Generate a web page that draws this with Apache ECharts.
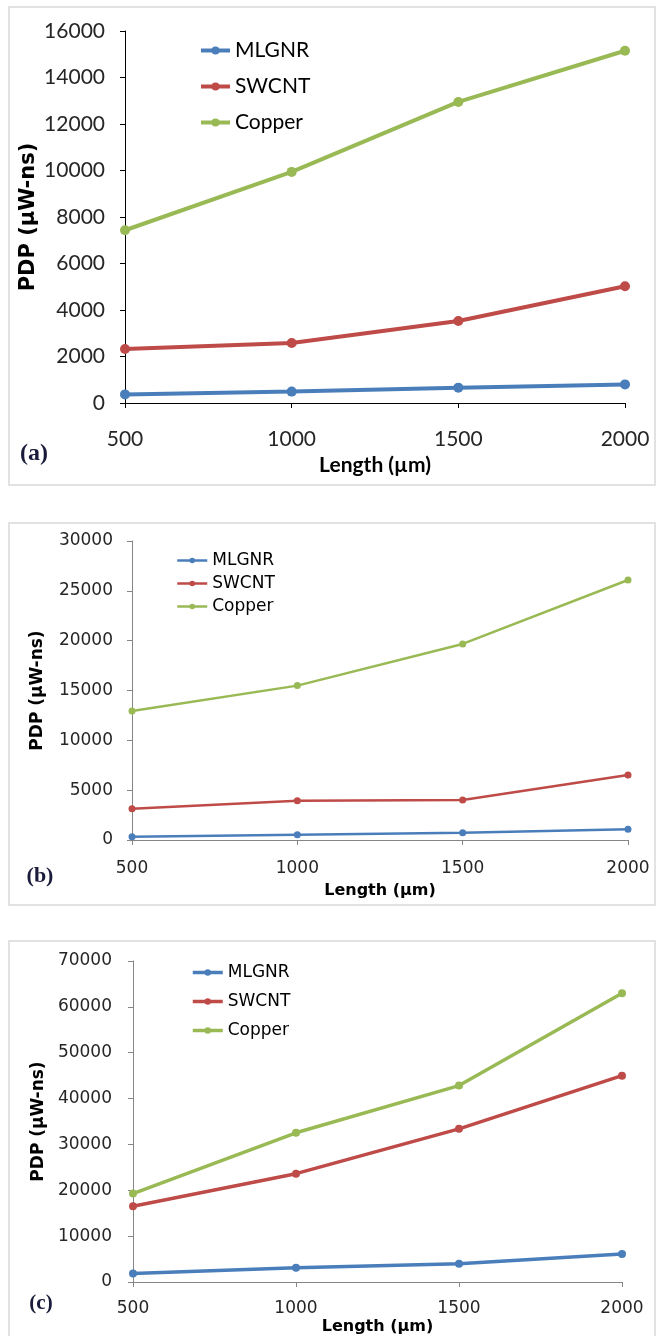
<!DOCTYPE html>
<html>
<head>
<meta charset="utf-8">
<script src="https://cdn.jsdelivr.net/npm/echarts@6/dist/echarts.min.js"></script>
<style>
html,body{margin:0;padding:0;background:#fff;}
#chart{width:656px;height:1336px;}
</style>
</head>
<body>
<div id="chart"></div>
<script>
// ---- data ----
const lengths = [500, 1000, 1500, 2000];
const seriesNames = ['MLGNR', 'SWCNT', 'Copper'];
const panelLabels = ['(a)', '(b)', '(c)'];
const xTitle = 'Length (µm)';
const yTitle = 'PDP (µW-ns)';

const mlgnrA = [370, 490, 660, 800];
const swcntA = [2320, 2580, 3530, 5020];
const copperA = [7430, 9940, 12950, 15150];

const mlgnrB = [330, 530, 730, 1070];
const swcntB = [3140, 3950, 4010, 6520];
const copperB = [12940, 15490, 19670, 26090];

const mlgnrC = [1880, 3120, 3990, 6090];
const swcntC = [16520, 23620, 33400, 45000];
const copperC = [19280, 32540, 42830, 62970];

const yMaxes = [16000, 30000, 70000];
const yIntervals = [2000, 5000, 10000];

// ---- styles ----
const colors = ['#4a7ebb', '#be4b48', '#98b954'];
const panels = [
  {grid:{left:125, top:31, width:500, height:372}, data:[mlgnrA, swcntA, copperA],
   tickFont:'Lato', tickSize:21, axisColor:'#000', lw:4, sym:10,
   yNameGap:86, yNameSize:21, xNameGap:52, xNameFont:'Lato', xNameSize:21, moveOverlap:false,
   legend:{left:194, top:35, itemGap:15, fontFamily:'Lato', fontSize:21, itemWidth:29, lw:4},
   xMargin:26, yMargin:20},
  {grid:{left:132, top:541, width:496, height:299}, data:[mlgnrB, swcntB, copperB],
   tickFont:'DejaVu Sans', tickSize:17, axisColor:'#868686', lw:2.5, sym:7,
   yNameGap:86, yNameSize:17, xNameGap:43, xNameFont:'DejaVu Sans', xNameSize:16, moveOverlap:true,
   legend:{left:171, top:547, itemGap:6, fontFamily:'DejaVu Sans', fontSize:17, itemWidth:30, lw:2.5},
   xMargin:20, yMargin:19},
  {grid:{left:133, top:961, width:489, height:321}, data:[mlgnrC, swcntC, copperC],
   tickFont:'DejaVu Sans', tickSize:17, axisColor:'#868686', lw:3.5, sym:8,
   yNameGap:84, yNameSize:17, xNameGap:37, xNameFont:'DejaVu Sans', xNameSize:16, moveOverlap:true,
   legend:{left:186, top:959, itemGap:12, fontFamily:'DejaVu Sans', fontSize:17, itemWidth:30, lw:3.5},
   xMargin:18, yMargin:21}
];

const grids = [], xAxes = [], yAxes = [], series = [], legends = [], graphics = [];
const boxes = [[9, 7, 646, 478], [9, 523, 646, 382], [9, 941, 646, 400]];
const labelPos = [[34, 454, 24], [40, 876, 22], [41, 1304, 21]];
const plain = v => String(v);

panels.forEach((p, i) => {
  grids.push(Object.assign({}, p.grid));
  xAxes.push({
    type:'value', gridIndex:i, min:500, max:2000, interval:500,
    name:xTitle, nameLocation:'middle', nameGap:p.xNameGap,
    nameTextStyle:{fontFamily:p.xNameFont, fontWeight:'bold', fontSize:p.xNameSize, color:'#000'},
    axisLine:{show:true, onZero:false, lineStyle:{color:p.axisColor, width:1}},
    axisTick:{show:true, length:5, lineStyle:{color:p.axisColor}},
    axisLabel:{fontFamily:p.tickFont, fontSize:p.tickSize, color:'#262626', margin:p.xMargin, formatter:plain},
    splitLine:{show:false}
  });
  yAxes.push({
    type:'value', gridIndex:i, min:0, max:yMaxes[i], interval:yIntervals[i],
    name:yTitle, nameLocation:'middle', nameGap:p.yNameGap, nameRotate:90,
    nameMoveOverlap:p.moveOverlap,
    nameTextStyle:{fontFamily:'DejaVu Sans', fontWeight:'bold', fontSize:p.yNameSize, color:'#000'},
    axisLine:{show:true, lineStyle:{color:p.axisColor, width:1}},
    axisTick:{show:true, length:5, lineStyle:{color:p.axisColor}},
    axisLabel:{fontFamily:p.tickFont, fontSize:p.tickSize, color:'#262626', margin:p.yMargin, formatter:plain},
    splitLine:{show:false}
  });
  const names = seriesNames.map(n => n + (i === 0 ? '' : ' '.repeat(i)));
  p.data.forEach((vals, k) => {
    series.push({
      type:'line', name:names[k], xAxisIndex:i, yAxisIndex:i,
      data:lengths.map((x, j) => [x, vals[j]]),
      symbol:'circle', symbolSize:p.sym, showSymbol:true,
      lineStyle:{color:colors[k], width:p.lw},
      itemStyle:{color:colors[k]},
      animation:false
    });
  });
  legends.push({
    data:names,
    orient:'vertical', left:p.legend.left, top:p.legend.top,
    itemGap:p.legend.itemGap, itemWidth:p.legend.itemWidth, itemHeight:p.sym,
    selectedMode:false,
    lineStyle:{width:p.legend.lw},
    formatter: n => n.trim(),
    textStyle:{fontFamily:p.legend.fontFamily, fontSize:p.legend.fontSize, color:'#000'}
  });
  const b = boxes[i];
  graphics.push({type:'rect', shape:{x:b[0], y:b[1], width:b[2], height:b[3]},
    style:{fill:'none', stroke:'#d9d9d9', lineWidth:1.5}, z:-1});
  const lp = labelPos[i];
  graphics.push({type:'text', x:lp[0], y:lp[1],
    style:{text:panelLabels[i], fontFamily:'Liberation Serif', fontWeight:'bold', fontSize:lp[2],
      fill:'#1a1a3a', align:'center', verticalAlign:'middle'}});
});

const chart = echarts.init(document.getElementById('chart'), null, {renderer:'canvas'});
chart.setOption({
  animation:false,
  backgroundColor:'#fff',
  grid:grids, xAxis:xAxes, yAxis:yAxes, series:series, legend:legends,
  graphic:graphics
});
</script>
</body>
</html>
